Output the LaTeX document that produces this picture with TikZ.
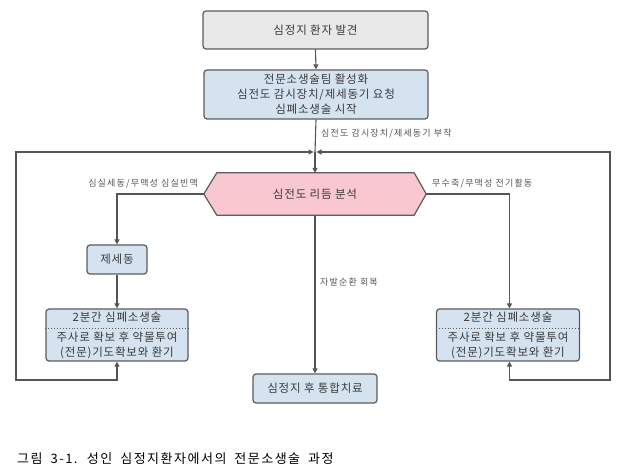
\documentclass[tikz,border=0pt]{standalone}
\usepackage{fontspec}
\setmainfont{Noto Sans CJK KR}
\newfontfamily\boxfont[LetterSpace=7]{Noto Sans CJK KR}
\newfontfamily\lblfont[LetterSpace=13]{Noto Sans CJK KR}
\newfontfamily\capfont[LetterSpace=11.5,WordSpace=1.8]{Noto Sans CJK KR}
\usetikzlibrary{arrows.meta,backgrounds}
\definecolor{grayfill}{HTML}{E8E8E8}
\definecolor{bluefill}{HTML}{D5E3F1}
\definecolor{pinkfill}{HTML}{F9C7D0}
\definecolor{bordercol}{HTML}{5C5C5C}
\definecolor{linecol}{HTML}{555555}
\definecolor{txtcol}{HTML}{3A3A3A}
\definecolor{lblcol}{HTML}{555555}
\tikzset{
  boxbase/.style={draw=bordercol, line width=1.2pt, rounded corners=3pt, align=center,
    text=txtcol, inner sep=0pt, font=\boxfont\fontsize{11.5}{15}\selectfont},
  graybox/.style={boxbase, fill=grayfill},
  bluebox/.style={boxbase, fill=bluefill},
  conn/.style={draw=linecol, line width=1.1pt},
  arr/.style={conn, -{Triangle[length=5pt,width=5pt]}},
  dblarr/.style={conn, {Triangle[length=5pt,width=5pt]}-{Triangle[length=5pt,width=5pt]}},
  lbl/.style={text=lblcol, font=\lblfont\fontsize{9}{11}\selectfont, inner sep=0pt},
  boxtext/.style={text=txtcol, font=\boxfont\fontsize{11.5}{15}\selectfont, inner sep=0pt, align=center}
}
\begin{document}
\begin{tikzpicture}[x=1pt,y=-1pt]
\useasboundingbox (0,0) rectangle (632,470);
% top boxes
\node[graybox, minimum width=225pt, minimum height=38pt] (n1) at (315.5,30) {심정지 환자 발견};
\node[bluebox, minimum width=224pt, minimum height=49pt] (n2) at (316,94.5)
  {전문소생술팀 활성화\\심전도 감시장치/제세동기 요청\\심폐소생술 시작};
% hexagon
\node[boxtext, minimum width=222pt, minimum height=42pt] (hex) at (315,194) {심전도 리듬 분석};
\begin{pgfonlayer}{background}
\draw[draw=bordercol, line width=1.2pt, fill=pinkfill, line join=round]
  (hex.west) -- ([xshift=13pt]hex.north west) -- ([xshift=-12pt]hex.north east) -- (hex.east)
  -- ([xshift=-12pt]hex.south east) -- ([xshift=13pt]hex.south west) -- cycle;
\end{pgfonlayer}
% left side
\node[bluebox, minimum width=60pt, minimum height=29pt] (defib) at (117,259.5) {제세동};
\node[bluebox, minimum width=142pt, minimum height=52pt] (lb) at (117,335) {};
\node[boxtext] (lbt) at (117,317.5) {2분간 심폐소생술};
\node[boxtext] (lbb) at (117,345) {주사로 확보 후 약물투여\\(전문)기도확보와 환기};
\draw[draw=bordercol, line width=0.9pt, dotted] (lb.west |- 0,328) -- (lb.east |- 0,328);
% right side
\node[bluebox, minimum width=143pt, minimum height=52pt] (rb) at (508,335) {};
\node[boxtext] (rbt) at (508,317.5) {2분간 심폐소생술};
\node[boxtext] (rbb) at (508,345) {주사로 확보 후 약물투여\\(전문)기도확보와 환기};
\draw[draw=bordercol, line width=0.9pt, dotted] (rb.west |- 0,328) -- (rb.east |- 0,328);
% bottom
\node[bluebox, minimum width=124pt, minimum height=29pt] (fin) at (315,388.5) {심정지 후 통합치료};
% labels
\node[lbl, anchor=west] (l1) at (321,134) {심전도 감시장치/제세동기 부착};
\node[lbl, anchor=east] (l2) at (198,184) {심실세동/무맥성 심실빈맥};
\node[lbl, anchor=west] (l3) at (432,184) {무수축/무맥성 전기활동};
\node[lbl, anchor=west] (l4) at (320,282) {자발순환 회복};
% coordinates
\coordinate (m) at (315,152);
\coordinate (cl) at (16,380);
\coordinate (cr) at (610,380);
% connectors
\draw[arr] (n1.south) -- (n2.north);
\draw[conn] (n2.south) -- (m);
\draw[arr] (m) -- (hex.north);
\draw[arr] (hex.west) -| (defib.north);
\draw[arr] (defib.south) -- (lb.north);
\draw[arr] (hex.east) -| ([xshift=1.5pt]rb.north);
\draw[arr] (hex.south) -- (fin.north);
\draw[dblarr] (lb.south) -- (lb.south |- cl) -- (cl) -- (cl |- m) -- ([xshift=-1.5pt]m);
\draw[dblarr] ([xshift=1.5pt]rb.south) -- ([xshift=1.5pt]rb.south |- cr) -- (cr) -- (cr |- m) -- ([xshift=1.5pt]m);
% caption
\node[anchor=west, inner sep=0pt, text=black, font=\capfont\fontsize{13}{15}\selectfont] (cap) at (17,459)
  {그림 3-1. 성인 심정지환자에서의 전문소생술 과정};
\end{tikzpicture}
\end{document}
